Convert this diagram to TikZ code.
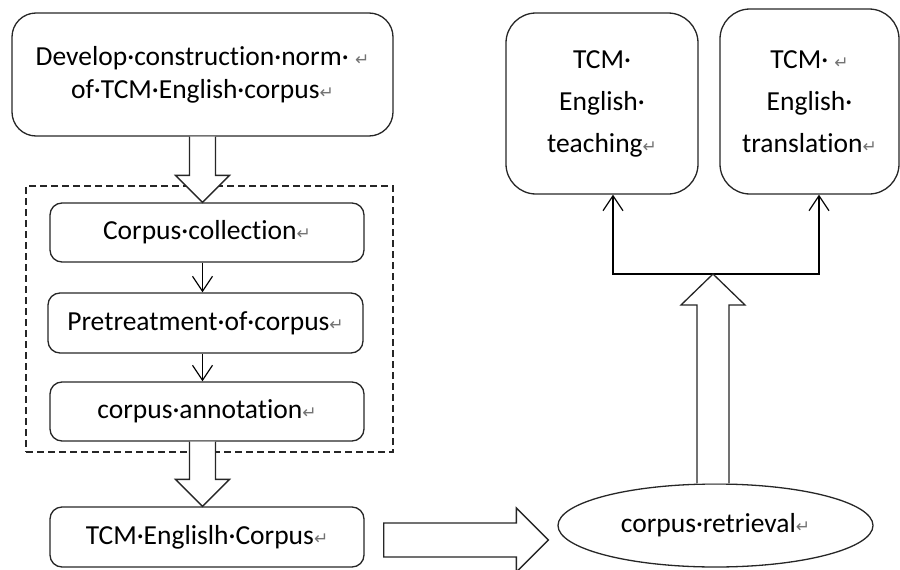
\documentclass[tikz,border=0pt]{standalone}
\usepackage{fontspec}
\setmainfont{Carlito}[Ligatures={NoCommon}]
\newfontfamily\symf{DejaVu Sans}
\usetikzlibrary{shapes.geometric,arrows.meta,calc}
\newcommand{\rtmark}{{\symf\color{black!55}\fontsize{17}{17}\selectfont ↵}}
\begin{document}
\begin{tikzpicture}[x=1pt,y=-1pt,
  base/.style={draw=black!85, line width=1.3pt, text=black, font=\fontsize{27.5}{33}\selectfont, align=center, inner sep=0pt},
  bigbox/.style={base, rounded corners=24pt},
  smallbox/.style={base, rounded corners=12pt},
  tallbox/.style={base, rounded corners=30pt, font=\fontsize{27.5}{42}\selectfont},
  ovalnode/.style={base, ellipse},
  grpbox/.style={draw=black!85, line width=1.2pt, dash pattern=on 7pt off 4pt},
  hollow/.style={draw=black!85, line width=1.3pt, fill=white, line join=miter},
  thinarrow/.style={draw=black, line width=1.2pt, -{Straight Barb[length=15pt,width=20pt,line width=1.2pt]}},
  boththin/.style={draw=black, line width=1.2pt, {Straight Barb[length=15pt,width=20pt,line width=1.2pt]}-{Straight Barb[length=15pt,width=20pt,line width=1.2pt]}}
]
\useasboundingbox (0,0) rectangle (900,570);

% left column
\node[bigbox, minimum width=381pt, minimum height=123pt] (b1) at (202.5,74.5)
  {Develop·construction·norm· \rtmark\\of·TCM·English·corpus\rtmark};
\node[grpbox, minimum width=367pt, minimum height=266pt] (grp) at (209.5,319) {};
\node[smallbox, minimum width=314pt, minimum height=59pt] (c1) at (207,232.5) {Corpus·collection\rtmark};
\node[smallbox, minimum width=315pt, minimum height=60pt] (c2) at (205.5,323) {Pretreatment·of·corpus\rtmark};
\node[smallbox, minimum width=314pt, minimum height=59pt] (c3) at (207,411.5) {corpus·annotation\rtmark};
\node[smallbox, minimum width=314pt, minimum height=60pt] (d) at (207,537) {TCM·Englislh·Corpus\rtmark};

% right column
\node[ovalnode, minimum width=315pt, minimum height=83pt] (e) at (715.5,525.5) {corpus·retrieval\rtmark};
\node[tallbox, minimum width=192pt, minimum height=181pt] (t1) at (602,103.5) {TCM·\\English·\\teaching\rtmark};
\node[tallbox, minimum width=179pt, minimum height=185pt] (t2) at (809.5,101.5) {TCM· \rtmark\\English·\\translation\rtmark};

% thin arrows inside group
\draw[thinarrow] (b1.south |- c1.south) -- (b1.south |- c2.north);
\draw[thinarrow] (b1.south |- c2.south) -- (b1.south |- c3.north);

% hollow arrow 1 (down)
\draw[hollow] let \p1=(b1.south), \p2=(c1.north) in
  (\x1-13pt,\y1) -- (\x1-13pt,\y2+27pt) -- (\x1-27pt,\y2+27pt) -- (\x1,\y2)
  -- (\x1+27pt,\y2+27pt) -- (\x1+13pt,\y2+27pt) -- (\x1+13pt,\y1);

% hollow arrow 2 (down)
\draw[hollow] let \p1=(b1.south |- c3.south), \p2=(d.north) in
  (\x1-13pt,\y1) -- (\x1-13pt,\y2+27pt) -- (\x1-27pt,\y2+27pt) -- (\x1,\y2)
  -- (\x1+27pt,\y2+27pt) -- (\x1+13pt,\y2+27pt) -- (\x1+13pt,\y1);

% hollow arrow 3 (right)
\coordinate (hstart) at ($(d.east)+(19,3)$);
\coordinate (htip) at ($(e.west)+(-9,0)$);
\draw[hollow] let \p1=(hstart), \p2=(htip) in
  (\x1,\y1+17pt) -- (\x2-32pt,\y1+17pt) -- (\x2-32pt,\y1+32pt) -- (\x2,\y1)
  -- (\x2-32pt,\y1-32pt) -- (\x2-32pt,\y1-17pt) -- (\x1,\y1-17pt) -- cycle;

% branch
\coordinate (j) at (713,274);
\coordinate (jl) at (613,274);
\coordinate (jr) at (819,274);
\draw[boththin] (jl |- t1.south) -- (jl) -- (jr) -- (jr |- t2.south);

% hollow arrow 4 (up)
\draw[hollow] let \p1=(e.north), \p2=(j) in
  (\x2-16pt,\y1) -- (\x2-16pt,\y2-31pt) -- (\x2-32pt,\y2-31pt) -- (\x2,\y2)
  -- (\x2+32pt,\y2-31pt) -- (\x2+16pt,\y2-31pt) -- (\x2+16pt,\y1);
\end{tikzpicture}
\end{document}
